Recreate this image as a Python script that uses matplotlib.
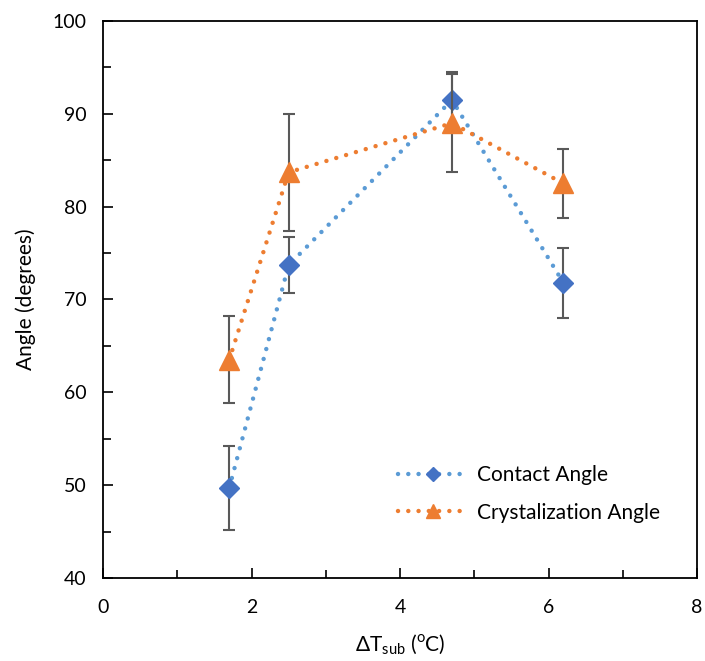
import numpy as np
import matplotlib
matplotlib.use("Agg")
import matplotlib.pyplot as plt
from matplotlib.lines import Line2D

plt.rcParams['font.family'] = ['Lato', 'DejaVu Sans']
plt.rcParams['mathtext.fontset'] = 'custom'
plt.rcParams['mathtext.rm'] = 'Lato'

# data
dT = [1.7, 2.5, 4.7, 6.2]
contact = [49.7, 73.7, 91.5, 71.8]
contact_err = [4.5, 3.0, 3.0, 3.8]
cryst = [63.5, 83.7, 89.0, 82.5]
cryst_err = [4.7, 6.3, 5.3, 3.7]

labels = ['Contact Angle', 'Crystalization Angle']

fig = plt.figure(figsize=(7.05, 6.61), dpi=100)
ax = fig.add_axes([0.1461, 0.1256, 0.8426, 0.8426])

dots = (0, (0.01, 2.3))
series = [
    (contact, contact_err, '#5B9BD5', '#4472C4', 'D', 10),
    (cryst, cryst_err, '#ED7D31', '#ED7D31', '^', 14),
]
handles = []
for k, (vals, err, lc, mc, mk, ms) in enumerate(series):
    ax.plot(dT, vals, color=lc, lw=3.2, linestyle=dots, dash_capstyle='round', zorder=2 + k)
    ax.errorbar(dT, vals, yerr=err, fmt='none', ecolor='#595959', elinewidth=1.5,
                capsize=4.5, capthick=1.5, zorder=3 + k)
    ax.plot(dT, vals, linestyle='none', marker=mk, ms=ms, color=mc, mec=mc, zorder=4 + k)
    handles.append(Line2D([], [], color=lc, lw=3.2, linestyle=dots, dash_capstyle='round',
                          marker=mk, ms=ms * 0.68, mfc=mc, mec=mc))

ax.set_xlim(0, 8)
ax.set_ylim(40, 100)
ax.set_xticks([0, 2, 4, 6, 8])
ax.set_xticks([1, 3, 5, 7], minor=True)
ax.set_yticks(range(40, 101, 10))
ax.set_yticks(range(45, 100, 10), minor=True)
ax.tick_params(which='both', direction='in', width=1.2, labelsize=14)
ax.tick_params(which='major', length=7)
ax.tick_params(which='minor', length=6)
ax.tick_params(axis='x', pad=15)
ax.tick_params(axis='y', pad=12)
for sp in ax.spines.values():
    sp.set_linewidth(1.3)

ax.set_xlabel(r'ΔT$_{\mathrm{sub}}$ ($^{\mathrm{o}}$C)', fontsize=15, labelpad=12)
ax.set_ylabel('Angle (degrees)', fontsize=15, labelpad=12)

ax.legend(handles, labels, loc='upper left', bbox_to_anchor=(0.4966, 0.203),
          frameon=False, fontsize=15, handlelength=3.4, handletextpad=0.4,
          labelspacing=0.85, borderpad=0, borderaxespad=0)

fig.savefig('out.png', dpi=100)
